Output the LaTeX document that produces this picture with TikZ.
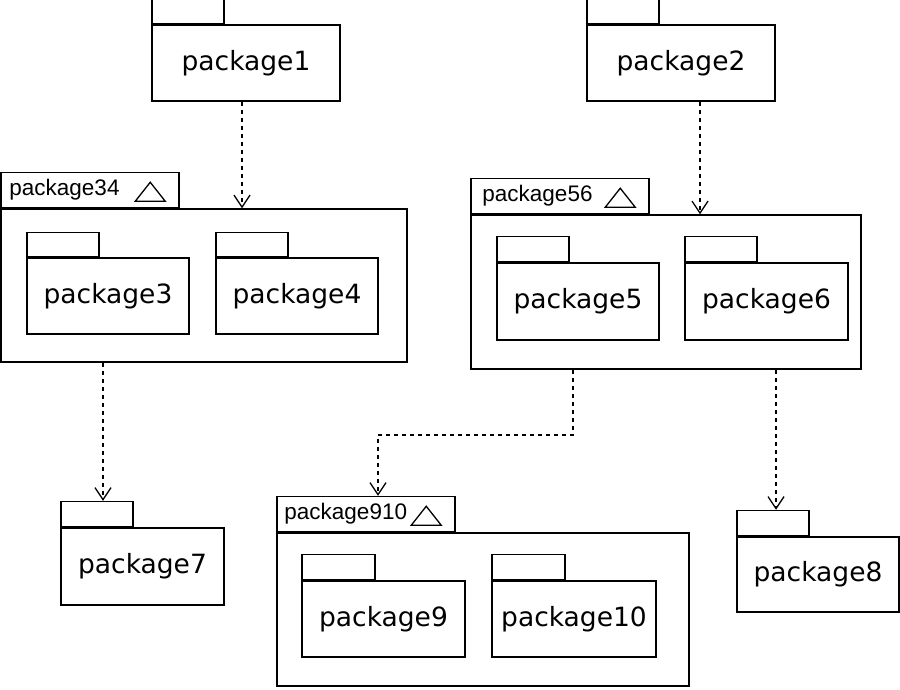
\documentclass[tikz,border=0pt]{standalone}
\usepackage{fontspec}
\setmainfont{DejaVu Sans}
\newfontfamily\grpfont{Liberation Sans}
\usetikzlibrary{arrows.meta,calc}
\tikzset{
  pkgbody/.style={draw, line width=1.5pt, inner sep=0pt, font=\fontsize{26.5}{30}\selectfont},
  pkgtab/.style={draw, line width=1.5pt, inner sep=0pt, anchor=south west, minimum width=72pt, minimum height=25pt},
  grpbody/.style={draw, line width=1.5pt, inner sep=0pt},
  grptab/.style={draw, line width=1.5pt, inner sep=0pt, anchor=south west, minimum width=178pt, minimum height=35pt},
  grplabel/.style={inner sep=0pt, anchor=west, font=\grpfont\fontsize{22.5}{26}\selectfont},
  tri/.style={draw, line width=1.3pt},
  deparrow/.style={line width=1.5pt, dash pattern=on 4pt off 4pt, -{Straight Barb[length=12pt,width=16pt,line width=1.3pt]}}
}
\begin{document}
\begin{tikzpicture}[x=1pt,y=1pt]
\useasboundingbox (0,0) rectangle (900,-689);

% top packages
\node[pkgbody, minimum width=188pt, minimum height=76pt] (p1) at (246,-63) {package1};
\node[pkgtab] (p1t) at (p1.north west) {};
\node[pkgbody, minimum width=188pt, minimum height=76pt] (p2) at (681,-63) {package2};
\node[pkgtab] (p2t) at (p2.north west) {};

% package34
\node[grpbody, minimum width=406pt, minimum height=153pt] (p34) at (204,-285.5) {};
\node[grptab] (p34t) at (p34.north west) {};
\node[grplabel] (p34l) at ([xshift=9pt]p34t.west) {package34};
\draw[tri] ([xshift=135pt,yshift=7pt]p34t.south west) -- ++(30pt,0) -- ++(-15pt,19pt) -- cycle;
\node[pkgbody, minimum width=162pt, minimum height=76pt] (p3) at (108,-296) {package3};
\node[pkgtab, minimum height=24pt] (p3t) at (p3.north west) {};
\node[pkgbody, minimum width=162pt, minimum height=76pt] (p4) at (297,-296) {package4};
\node[pkgtab, minimum height=24pt] (p4t) at (p4.north west) {};

% package56
\node[grpbody, minimum width=390pt, minimum height=154pt] (p56) at (666,-292) {};
\node[grptab] (p56t) at (p56.north west) {};
\node[grplabel] (p56l) at ([xshift=12pt]p56t.west) {package56};
\draw[tri] ([xshift=135pt,yshift=7pt]p56t.south west) -- ++(30pt,0) -- ++(-15pt,19pt) -- cycle;
\node[pkgbody, minimum width=162pt, minimum height=77pt] (p5) at (578,-301.5) {package5};
\node[pkgtab] (p5t) at (p5.north west) {};
\node[pkgbody, minimum width=163pt, minimum height=77pt] (p6) at (766.5,-301.5) {package6};
\node[pkgtab] (p6t) at (p6.north west) {};

% package7, package8
\node[pkgbody, minimum width=163pt, minimum height=77pt] (p7) at (142.5,-566.5) {package7};
\node[pkgtab] (p7t) at (p7.north west) {};
\node[pkgbody, minimum width=162pt, minimum height=75pt] (p8) at (818,-574.5) {package8};
\node[pkgtab] (p8t) at (p8.north west) {};

% package910
\node[grpbody, minimum width=412pt, minimum height=153pt] (p910) at (483,-609.5) {};
\node[grptab] (p910t) at (p910.north west) {};
\node[grplabel] (p910l) at ([xshift=8pt]p910t.west) {package910};
\draw[tri] ([xshift=135pt,yshift=7pt]p910t.south west) -- ++(30pt,0) -- ++(-15pt,19pt) -- cycle;
\node[pkgbody, minimum width=163pt, minimum height=76pt] (p9) at (383.5,-619) {package9};
\node[pkgtab, minimum width=73pt] (p9t) at (p9.north west) {};
\node[pkgbody, minimum width=164pt, minimum height=76pt] (p10) at (574,-619) {package10};
\node[pkgtab, minimum width=73pt] (p10t) at (p10.north west) {};

% dependencies
\coordinate (s1) at ([xshift=-4pt]p1.south);
\draw[deparrow] (s1) -- (s1 |- p34.north);
\coordinate (s2) at ([xshift=19pt]p2.south);
\draw[deparrow] (s2) -- (s2 |- p56.north);
\coordinate (e7) at ([xshift=6pt]p7t.north);
\draw[deparrow] (e7 |- p34.south) -- (e7);
\coordinate (e8) at ([xshift=3pt]p8t.north);
\draw[deparrow] (e8 |- p56.south) -- (e8);
\coordinate (s9) at ([xshift=-93pt]p56.south);
\coordinate (e9) at ([xshift=12pt]p910t.north);
\draw[deparrow] (s9) -- ++(0,-65pt) -| (e9);
\end{tikzpicture}
\end{document}
